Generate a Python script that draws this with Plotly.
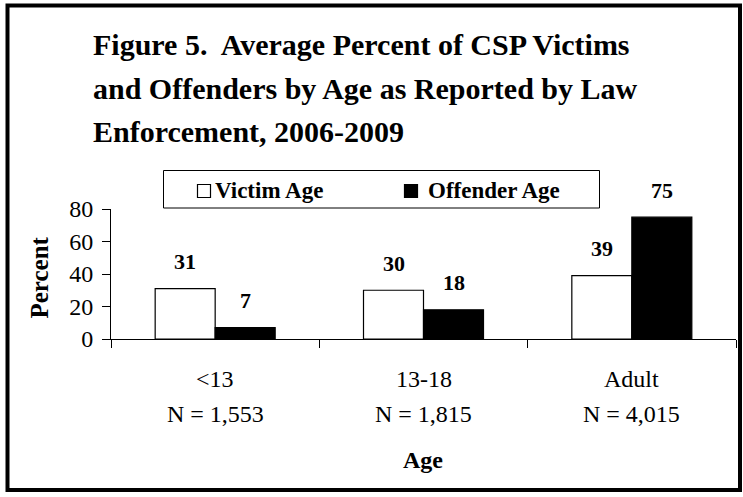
import plotly.graph_objects as go

# ---- data ----
categories = ["<13", "13-18", "Adult"]
n_labels = ["N = 1,553", "N = 1,815", "N = 4,015"]
victim_pct = [31, 30, 39]
offender_pct = [7, 18, 75]
series_names = ["Victim Age", "Offender Age"]
title_lines = [
    "Figure 5.  Average Percent of CSP Victims",
    "and Offenders by Age as Reported by Law",
    "Enforcement, 2006-2009",
]
y_ticks = [0, 20, 40, 60, 80]

# ---- layout geometry (pixels) ----
W, H = 743, 497
PL, PR, PT, PB = 111, 736, 209, 339  # plot area edges


def xp(px):
    return (px - PL) / (PR - PL)


def yp(py):
    return (PB - py) / (PB - PT)


SERIF = "Liberation Serif, Times New Roman, serif"

fig = go.Figure()
fig.add_trace(go.Bar(
    x=categories, y=victim_pct, name=series_names[0],
    marker=dict(color="white", line=dict(color="black", width=1.2)),
    showlegend=False,
))
fig.add_trace(go.Bar(
    x=categories, y=offender_pct, name=series_names[1],
    marker=dict(color="black", line=dict(color="black", width=1.2)),
    showlegend=False,
))

annotations = []
# data labels
for vals, shift in ((victim_pct, -30), (offender_pct, 30)):
    for c, v in zip(categories, vals):
        annotations.append(dict(
            x=c, y=v, xref="x", yref="y", text=f"<b>{v}</b>", showarrow=False,
            xshift=shift, yshift=27, yanchor="middle",
            font=dict(family=SERIF, size=22, color="black"),
        ))
# category labels (two lines)
for c, n in zip(categories, n_labels):
    annotations.append(dict(
        x=c, y=yp(378.5), xref="x", yref="paper", text=c, showarrow=False,
        yanchor="middle", font=dict(family=SERIF, size=24, color="black"),
    ))
    annotations.append(dict(
        x=c, y=yp(413.5), xref="x", yref="paper", text=n, showarrow=False,
        yanchor="middle", font=dict(family=SERIF, size=24, color="black"),
    ))
# axis titles
annotations.append(dict(
    x=xp(423), y=yp(459.5), xref="paper", yref="paper", text="<b>Age</b>",
    showarrow=False, yanchor="middle", xanchor="center",
    font=dict(family=SERIF, size=24, color="black"),
))
annotations.append(dict(
    x=xp(38.5), y=yp(278), xref="paper", yref="paper", text="<b>Percent</b>",
    showarrow=False, textangle=-90, yanchor="middle", xanchor="center",
    font=dict(family=SERIF, size=25, color="black"),
))
# title lines
for txt, cy in zip(title_lines, (44.5, 88.5, 131.5)):
    annotations.append(dict(
        x=xp(91), y=yp(cy), xref="paper", yref="paper", text=f"<b>{txt}</b>",
        showarrow=False, xanchor="left", yanchor="middle",
        font=dict(family=SERIF, size=30, color="black"),
    ))
# legend texts
annotations.append(dict(
    x=xp(213), y=yp(190.5), xref="paper", yref="paper", text=f"<b>{series_names[0]}</b>",
    showarrow=False, xanchor="left", yanchor="middle",
    font=dict(family=SERIF, size=23, color="black"),
))
annotations.append(dict(
    x=xp(426), y=yp(190.5), xref="paper", yref="paper", text=f"<b>{series_names[1]}</b>",
    showarrow=False, xanchor="left", yanchor="middle",
    font=dict(family=SERIF, size=23, color="black"),
))

shapes = [
    # outer frame
    dict(type="rect", xref="paper", yref="paper",
         x0=xp(7.5), x1=xp(740), y0=yp(5.5), y1=yp(490),
         line=dict(color="black", width=4), fillcolor="rgba(0,0,0,0)", layer="above"),
    # legend box
    dict(type="rect", xref="paper", yref="paper",
         x0=xp(163.5), x1=xp(599.5), y0=yp(170.5), y1=yp(208),
         line=dict(color="black", width=1), fillcolor="white"),
    # legend swatches
    dict(type="rect", xref="paper", yref="paper",
         x0=xp(197.5), x1=xp(210.5), y0=yp(184.5), y1=yp(197.5),
         line=dict(color="black", width=1.2), fillcolor="white"),
    dict(type="rect", xref="paper", yref="paper",
         x0=xp(404.5), x1=xp(417.5), y0=yp(184.5), y1=yp(197.5),
         line=dict(color="black", width=1.2), fillcolor="black"),
]

fig.update_layout(
    width=W, height=H,
    margin=dict(l=PL, r=W - PR, t=PT, b=H - PB, pad=0),
    paper_bgcolor="white", plot_bgcolor="white",
    barmode="group", bargap=0.424, bargroupgap=0,
    showlegend=False,
    annotations=annotations, shapes=shapes,
    font=dict(family=SERIF, color="black"),
    xaxis=dict(
        showticklabels=False, tickson="boundaries", ticks="outside",
        ticklen=8, tickcolor="black", tickwidth=1,
        showline=True, linecolor="black", linewidth=1,
        showgrid=False, zeroline=False, fixedrange=True,
    ),
    yaxis=dict(
        range=[0, 80], tickvals=y_ticks, ticks="outside", ticklen=8,
        tickcolor="black", tickwidth=1, showline=True, linecolor="black",
        linewidth=1, showgrid=False, zeroline=False,
        tickfont=dict(family=SERIF, size=24, color="black"),
        ticklabelstandoff=4, fixedrange=True,
    ),
)

fig.write_html(
    "out.html",
    config={"displayModeBar": False},
    post_script="document.body.style.margin='0px';document.body.style.overflow='hidden';",
)
